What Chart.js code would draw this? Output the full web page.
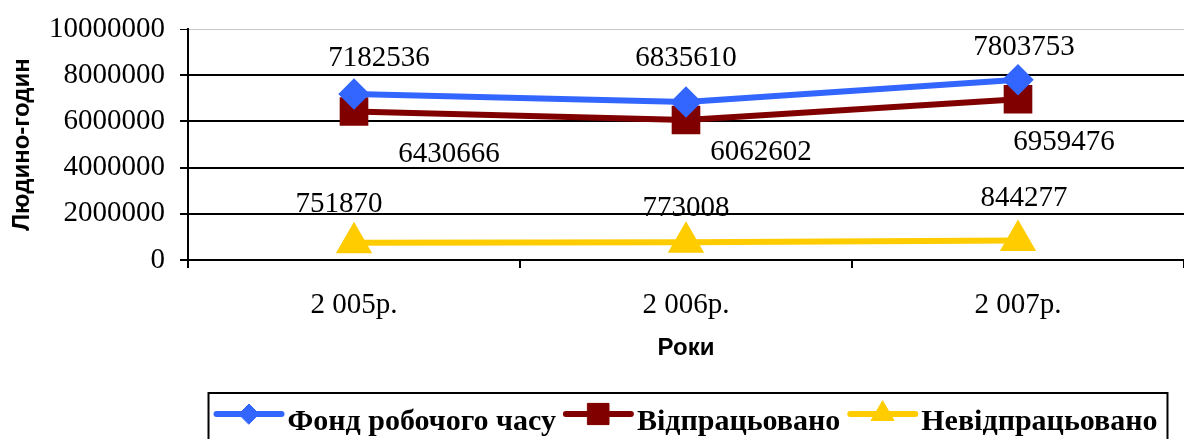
<!DOCTYPE html>
<html>
<head>
<meta charset="utf-8">
<script src="https://cdn.jsdelivr.net/npm/chart.js@4.4.1/dist/chart.umd.min.js"></script>
<style>
  body { margin: 0; background: #fff; }
  canvas { display: block; }
</style>
</head>
<body>
<canvas id="work-time-plot" width="1184" height="439"></canvas>
<script>
// Values
const years = ["2 005р.", "2 006р.", "2 007р."];
const fundValues = [7182536, 6835610, 7803753];
const workedValues = [6430666, 6062602, 6959476];
const notWorkedValues = [751870, 773008, 844277];
const yTicks = [0, 2000000, 4000000, 6000000, 8000000, 10000000];

const seriesNames = ["Фонд робочого часу", "Відпрацьовано", "Невідпрацьовано"];

// Excel-style value labels next to each point
const valueLabels = {
    id: "valueLabels",
    afterDatasetsDraw(chart) {
        const ctx = chart.ctx;
        ctx.save();
        ctx.font = "29px 'Liberation Serif'";
        ctx.fillStyle = "#000";
        ctx.textAlign = "center";
        ctx.textBaseline = "middle";
        chart.data.datasets.forEach((ds, i) => {
            const meta = chart.getDatasetMeta(i);
            meta.data.forEach((pt, j) => {
                const off = ds.labelOffsets[j];
                ctx.fillText(String(ds.data[j]), pt.x + off[0], pt.y + off[1]);
            });
        });
        ctx.restore();
    }
};

// boxed legend under the axis title, line + marker like Excel
const boxLegend = {
    id: "boxLegend",
    afterDraw(chart) {
        const ctx = chart.ctx;
        const lineLen = 65;
        const afterLine = 6;
        const itemGap = 10;
        ctx.save();
        ctx.font = "bold 30px 'Liberation Serif'";
        const widths = chart.data.datasets.map(ds => ctx.measureText(ds.label).width);
        const total = widths.reduce((a, w) => a + lineLen + afterLine + w, 0) + itemGap * (widths.length - 1);
        const center = (chart.chartArea.left + chart.chartArea.right) / 2 + 1;
        let x = center - total / 2;
        const markerY = 414;
        const textY = 430;

        ctx.strokeStyle = "#000";
        ctx.lineWidth = 2;
        ctx.strokeRect(x - 8, 393, total + 18, 60);

        chart.data.datasets.forEach((ds, i) => {
            ctx.strokeStyle = ds.borderColor;
            ctx.lineWidth = 6;
            ctx.lineCap = "round";
            ctx.beginPath();
            ctx.moveTo(x, markerY);
            ctx.lineTo(x + lineLen, markerY);
            ctx.stroke();
            ctx.fillStyle = ds.borderColor;
            ctx.lineWidth = 1;
            Chart.helpers.drawPoint(ctx, {
                pointStyle: ds.pointStyle,
                radius: ds.legendRadius,
                borderWidth: 1
            }, x + lineLen / 2, markerY);
            ctx.fill();
            ctx.fillStyle = "#000";
            ctx.textBaseline = "alphabetic";
            ctx.fillText(ds.label, x + lineLen + afterLine, textY);
            x += lineLen + afterLine + widths[i] + itemGap;
        });
        ctx.restore();
    }
};

new Chart("work-time-plot", {
    type: "line",
    data: {
        labels: years,
        datasets: [
            {
                label: seriesNames[0],
                data: fundValues,
                borderColor: "#3366FF",
                backgroundColor: "#3366FF",
                borderWidth: 6,
                pointStyle: "rectRot",
                pointRadius: 11.5,
                legendRadius: 10,
                labelOffsets: [[25, -36], [0, -44], [6, -32]]
            },
            {
                label: seriesNames[1],
                data: workedValues,
                borderColor: "#800000",
                backgroundColor: "#800000",
                borderWidth: 6,
                pointStyle: "rect",
                pointRadius: 16,
                legendRadius: 15,
                labelOffsets: [[95, 43], [75, 32], [46, 43]]
            },
            {
                label: seriesNames[2],
                data: notWorkedValues,
                borderColor: "#FFCC00",
                backgroundColor: "#FFCC00",
                borderWidth: 6,
                pointStyle: "triangle",
                pointRadius: 15,
                legendRadius: 13,
                labelOffsets: [[-15, -38], [0, -34], [6, -42]]
            }
        ]
    },
    options: {
        responsive: false,
        animation: false,
        devicePixelRatio: 1,
        layout: { autoPadding: false, padding: { top: 29, right: 0, bottom: 76, left: 0 } },
        plugins: {
            legend: { display: false },
            tooltip: { enabled: false }
        },
        elements: {
            line: { tension: 0 },
            point: { borderWidth: 1, hoverRadius: 0 }
        },
        scales: {
            x: {
                offset: true,
                afterFit(scale) {
                    scale.height = 103;
                    scale.paddingLeft = 0;
                    scale.paddingRight = 0;
                },
                grid: {
                    offset: true,
                    drawOnChartArea: false,
                    drawTicks: true,
                    tickLength: 8,
                    tickColor: "#000",
                    lineWidth: 2
                },
                border: { color: "#000", width: 2 },
                ticks: {
                    color: "#000",
                    padding: 20,
                    font: { family: "'Liberation Serif'", size: 29 }
                },
                title: {
                    display: true,
                    text: "Роки",
                    color: "#000",
                    padding: { top: 0, bottom: 0 },
                    font: { family: "'Liberation Sans'", size: 24, weight: "bold" }
                }
            },
            y: {
                min: 0,
                max: 10000000,
                afterBuildTicks(scale) {
                    scale.ticks = yTicks.map(v => ({ value: v }));
                },
                afterFit(scale) {
                    scale.width = 188;
                    scale.paddingTop = 0;
                    scale.paddingBottom = 0;
                },
                grid: {
                    color: c => (c.tick && c.tick.value === 10000000 ? "#c8c8c8" : "#000"),
                    lineWidth: c => (c.tick && c.tick.value === 10000000 ? 1 : 2),
                    tickColor: "#000",
                    tickLength: 8
                },
                border: { color: "#000", width: 2 },
                ticks: {
                    color: "#000",
                    padding: 15,
                    font: { family: "'Liberation Serif'", size: 29 },
                    callback: v => String(v)
                },
                title: {
                    display: true,
                    text: "Людино-годин",
                    color: "#000",
                    padding: { top: 8, bottom: 15 },
                    font: { family: "'Liberation Sans'", size: 24, weight: "bold" }
                }
            }
        }
    },
    plugins: [valueLabels, boxLegend]
});
</script>
</body>
</html>
